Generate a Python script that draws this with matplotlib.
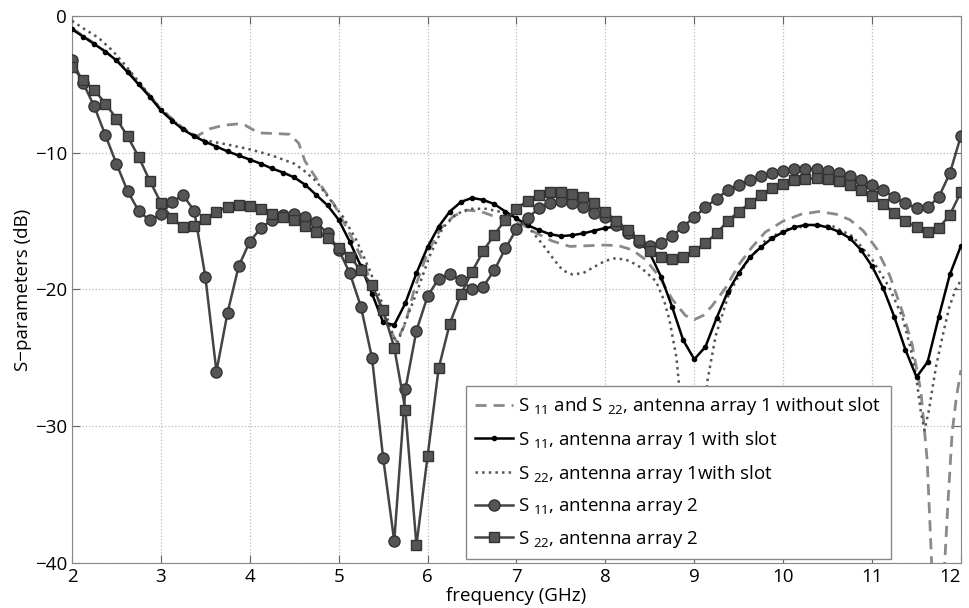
import matplotlib
matplotlib.use("Agg")
import matplotlib.pyplot as plt
import numpy as np

plt.rcParams['font.family'] = ['Open Sans', 'DejaVu Sans']
plt.rcParams['mathtext.default'] = 'regular'

# frequency grid of the marker curves (GHz)
freq = np.linspace(2, 12, 81)

s11_arr2 = [-3.2, -4.9, -6.6, -8.7, -10.8, -12.8, -14.25, -14.95,
            -14.5, -13.6, -13.1, -14.25, -19.05, -26.0, -21.7, -18.3,
            -16.5, -15.5, -14.9, -14.55, -14.5, -14.7, -15.1, -15.9,
            -17.1, -18.8, -21.25, -25.0, -32.3, -38.4, -27.3, -23.0,
            -20.5, -19.2, -18.9, -19.3, -20.0, -19.8, -18.6, -17.0,
            -15.6, -14.8, -14.05, -13.7, -13.55, -13.7, -13.95, -14.4,
            -14.7, -15.3, -15.9, -16.5, -16.8, -16.6, -16.1, -15.4,
            -14.7, -14.0, -13.35, -12.75, -12.35, -12.0, -11.7, -11.45,
            -11.3, -11.2, -11.2, -11.2, -11.3, -11.45, -11.7, -12.0,
            -12.35, -12.75, -13.25, -13.7, -14.05, -14.0, -13.25, -11.5,
            -8.75]

s22_arr2 = [-3.7, -4.7, -5.4, -6.4, -7.5, -8.8, -10.3, -12.05,
            -13.65, -14.8, -15.45, -15.35, -14.85, -14.3, -13.95, -13.8,
            -13.9, -14.1, -14.45, -14.7, -14.95, -15.35, -15.8, -16.25,
            -17.0, -17.6, -18.6, -19.7, -21.5, -24.25, -28.8, -38.7,
            -32.2, -25.75, -22.5, -20.35, -18.7, -17.2, -16.0, -14.9,
            -14.1, -13.5, -13.1, -12.85, -12.85, -13.0, -13.25, -13.7,
            -14.35, -15.0, -15.65, -16.35, -17.2, -17.6, -17.8, -17.6,
            -17.2, -16.6, -15.9, -15.0, -14.3, -13.7, -13.1, -12.6,
            -12.25, -12.0, -11.9, -11.87, -11.94, -12.1, -12.35, -12.7,
            -13.15, -13.75, -14.4, -15.0, -15.45, -15.77, -15.5, -14.55,
            -12.85]

s11_arr1_slot = [-0.97, -1.5, -2.05, -2.6, -3.25, -4.1, -5.0, -5.9,
                 -6.9, -7.65, -8.3, -8.8, -9.2, -9.55, -9.9, -10.2,
                 -10.5, -10.8, -11.15, -11.45, -11.8, -12.35, -13.1, -13.85,
                 -14.9, -16.5, -18.3, -20.3, -22.4, -22.6, -21.0, -18.8,
                 -16.9, -15.4, -14.3, -13.6, -13.3, -13.45, -13.75, -14.3,
                 -14.8, -15.3, -15.65, -15.95, -16.1, -16.03, -15.9, -15.7,
                 -15.5, -15.4, -15.75, -16.4, -17.35, -19.05, -21.25, -23.7,
                 -25.1, -24.2, -22.1, -20.2, -18.8, -17.65, -16.9, -16.25,
                 -15.8, -15.45, -15.28, -15.28, -15.45, -15.77, -16.25, -17.1,
                 -18.3, -19.9, -22.0, -24.4, -26.4, -25.3, -22.0, -18.9,
                 -16.8]

# antenna array 1 without slot (dashed)
f_noslot = [2.0, 2.25, 2.5, 2.75, 3.0, 3.25, 3.4, 3.55, 3.7, 3.85, 3.95, 4.1,
            4.3, 4.45, 4.55, 4.62, 4.7, 4.8, 4.95, 5.1, 5.25, 5.4, 5.55, 5.65,
            5.75, 5.85, 6.0, 6.15, 6.3, 6.45, 6.6, 6.75, 6.9, 7.05, 7.2, 7.4,
            7.6, 7.8, 8.0, 8.15, 8.3, 8.45, 8.6, 8.75, 8.9, 9.0, 9.1, 9.2,
            9.35, 9.5, 9.65, 9.8, 10.0, 10.2, 10.4, 10.6, 10.75, 10.9, 11.05, 11.2,
            11.35, 11.45, 11.55, 11.62, 11.67, 11.73, 11.8, 11.85, 11.9, 11.95, 12.0]
s_noslot = [-0.9, -2.0, -3.2, -4.9, -6.8, -8.2, -8.8, -8.25, -8.0, -7.9, -8.0, -8.55,
            -8.6, -8.65, -9.3, -10.6, -11.4, -12.4, -13.8, -15.6, -17.6, -20.0, -22.6, -23.8,
            -22.5, -20.0, -17.3, -15.5, -14.6, -14.2, -14.3, -14.65, -14.9, -15.2, -15.8, -16.45,
            -16.85, -16.8, -16.75, -16.8, -17.1, -17.8, -19.0, -20.7, -21.9, -22.2, -21.9, -21.2,
            -19.9, -18.2, -16.9, -15.8, -15.0, -14.5, -14.3, -14.5, -14.9, -15.7, -17.0, -19.0,
            -21.8, -24.0, -27.5, -32.5, -40.0, -46.0, -42.0, -36.0, -30.5, -27.8, -25.9]

# S22 antenna array 1 with slot (dotted)
f_s22_slot = [2.0, 2.15, 2.3, 2.45, 2.6, 2.75, 3.0, 3.25, 3.5, 3.75, 4.0, 4.25,
              4.5, 4.6, 4.75, 4.9, 5.05, 5.2, 5.35, 5.5, 5.62, 5.66, 5.76, 5.89,
              6.02, 6.17, 6.32, 6.47, 6.66, 6.88, 7.07, 7.18, 7.3, 7.42, 7.52, 7.63,
              7.75, 7.86, 8.0, 8.12, 8.27, 8.4, 8.57, 8.66, 8.72, 8.8, 8.9, 9.0,
              9.1, 9.15, 9.24, 9.39, 9.58, 9.8, 10.03, 10.33, 10.55, 10.78, 11.0, 11.19,
              11.34, 11.43, 11.49, 11.55, 11.59, 11.64, 11.72, 11.8, 11.87, 11.94, 12.0]
s22_slot = [-0.35, -1.0, -1.6, -2.5, -3.6, -4.8, -6.8, -8.3, -9.1, -9.4, -9.75, -10.2,
            -10.8, -11.25, -12.1, -13.4, -14.7, -16.4, -18.6, -21.2, -23.5, -23.9, -22.2, -20.0,
            -17.6, -15.5, -14.5, -14.1, -14.1, -14.4, -15.0, -15.8, -16.75, -17.8, -18.6, -18.9,
            -18.8, -18.4, -17.9, -17.7, -17.9, -18.4, -19.4, -20.8, -22.2, -25.0, -32.0, -38.0,
            -30.0, -26.6, -23.4, -20.3, -18.1, -16.4, -15.6, -15.3, -15.35, -16.1, -17.8, -19.8,
            -22.0, -24.2, -26.1, -29.0, -30.3, -28.8, -25.6, -23.2, -21.25, -20.0, -19.3]

fig = plt.figure(figsize=(9.7, 6.08), dpi=100)
ax = fig.add_axes([0.0742, 0.074, 0.9165, 0.8997])

ax.plot(f_noslot, s_noslot, '--', color='#8a8a8a', lw=2.0, dashes=(4, 2.5),
        label='S $_{11}$ and S $_{22}$, antenna array 1 without slot', zorder=3)
ax.plot(freq, s11_arr1_slot, '-', color='black', lw=1.8, marker='o', ms=3,
        label='S $_{11}$, antenna array 1 with slot', zorder=5)
ax.plot(f_s22_slot, s22_slot, ':', color='#555555', lw=1.8,
        label='S $_{22}$, antenna array 1with slot', zorder=4)
ax.plot(freq, s11_arr2, '-', color='#444444', lw=1.8, marker='o', ms=8,
        mfc='#555555', mec='#333333', label='S $_{11}$, antenna array 2', zorder=6)
ax.plot(freq, s22_arr2, '-', color='#444444', lw=1.8, marker='s', ms=6.5,
        mfc='#555555', mec='#333333', label='S $_{22}$, antenna array 2', zorder=6)

ax.set_xlim(2, 12)
ax.set_ylim(-40, 0)
ax.set_xticks(range(2, 13))
ax.set_yticks(range(-40, 1, 10))
ax.grid(True, linestyle=':', color='#bbbbbb', lw=0.9)
ax.tick_params(direction='in', top=True, right=True, length=6, labelsize=13.5, color='#666666')
for sp in ax.spines.values():
    sp.set_color('#888888')
ax.get_xticklabels()[-1].set_horizontalalignment('right')

ax.set_xlabel('frequency (GHz)', fontsize=13.5, labelpad=1)
ax.set_ylabel('S\u2212parameters (dB)', fontsize=13.5, labelpad=2)

leg = ax.legend(loc='lower left', bbox_to_anchor=(0.443, 0.007), borderaxespad=0,
                fontsize=13.5, frameon=True, fancybox=False, framealpha=1,
                edgecolor='#888888', handlelength=2.0, labelspacing=0.62,
                handletextpad=0.3, borderpad=0.5)
leg.get_frame().set_linewidth(1.0)
leg.set_zorder(10)

fig.savefig('out.png', dpi=100)
